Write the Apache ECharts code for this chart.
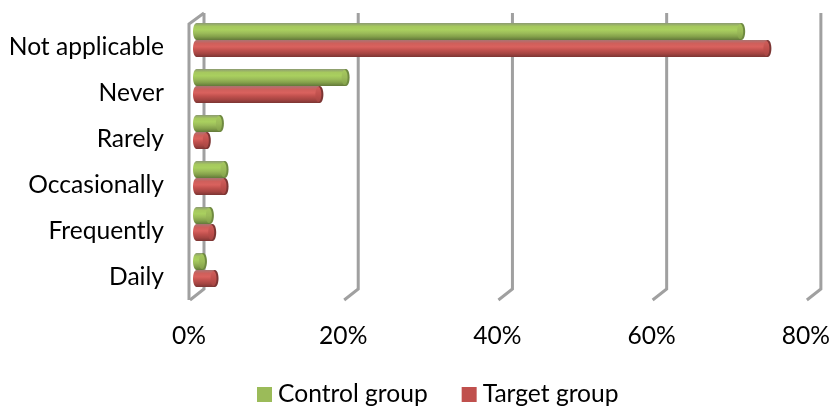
<!DOCTYPE html>
<html>
<head>
<meta charset="utf-8">
<style>html,body{margin:0;padding:0;background:#fff}#chart{width:833px;height:408px}</style>
<script src="https://cdn.jsdelivr.net/npm/echarts@6/dist/echarts.min.js"></script>
</head>
<body>
<div id="chart"></div>
<script>
const categories = ['Not applicable', 'Never', 'Rarely', 'Occasionally', 'Frequently', 'Daily'];
const controlGroup = [70.7, 19.4, 3.1, 3.7, 1.8, 0.9];
const targetGroup = [74.1, 16.0, 1.4, 3.7, 2.1, 2.4];
const ticks = [0, 20, 40, 60, 80];

// Pseudo-3D depth of the plot box, in pixels
const DEPTH_X = 15;
const DEPTH_Y = 11;
const BAR_H = 17;
const CAP_RX = 3.5;

function tube(stops) {
  return {
    type: 'linear', x: 0, y: 0, x2: 0, y2: 1,
    colorStops: stops.map((c, i) => ({ offset: i / (stops.length - 1), color: c }))
  };
}

// Cylinder lying along the value axis: rounded base, shaded body, darker end cap
function cylinderRenderer(stops, capStops, capEdge, side) {
  return function (params, api) {
    const end = api.coord([api.value(0), api.value(1)]);
    const base = api.coord([0, api.value(1)]);
    const cy = end[1] - 7 + side * BAR_H / 2;
    const x0 = base[0] + 7.5;
    const x1 = end[0] + 7.5;
    const fill = tube(stops);
    return {
      type: 'group',
      children: [
        { type: 'ellipse', shape: { cx: x0, cy: cy, rx: CAP_RX, ry: BAR_H / 2 }, style: { fill: fill } },
        { type: 'rect', shape: { x: x0, y: cy - BAR_H / 2, width: x1 - x0, height: BAR_H }, style: { fill: fill } },
        { type: 'ellipse', shape: { cx: x1, cy: cy, rx: CAP_RX, ry: BAR_H / 2 }, style: { fill: capEdge } },
        { type: 'ellipse', shape: { cx: x1 - 1.5, cy: cy, rx: CAP_RX - 0.5, ry: BAR_H / 2 - 1 }, style: { fill: tube(capStops) } }
      ]
    };
  };
}

// Gridline wall: each tick runs along the floor and up the back; zero also has the side wall
function renderWall(params, api) {
  const v = api.value(0);
  const x = api.coord([v, 0])[0];
  const box = params.coordSys;
  const top = box.y;
  const bottom = box.y + box.height;
  const style = { stroke: '#a0a0a0', lineWidth: 3, fill: 'none' };
  const backPath = [[x + 1, bottom], [x + DEPTH_X, bottom - DEPTH_Y], [x + DEPTH_X, top - DEPTH_Y]];
  const children = [{ type: 'polyline', shape: { points: backPath }, style: style }];
  if (v === 0) {
    children.push({
      type: 'polyline',
      shape: { points: [[x + DEPTH_X, top - DEPTH_Y], [x, top], [x, bottom]] },
      style: style
    });
  }
  return { type: 'group', children: children };
}

const chart = echarts.init(document.getElementById('chart'), null, { renderer: 'canvas' });
chart.setOption({
  animation: false,
  backgroundColor: '#ffffff',
  textStyle: { fontFamily: 'Lato' },
  grid: { left: 189, top: 24, width: 620, height: 276, containLabel: false },
  legend: {
    left: 252, top: 377, itemWidth: 15, itemHeight: 15, itemGap: 34,
    icon: 'rect',
    textStyle: { fontSize: 24.6, color: '#000', fontFamily: 'Lato', padding: [0, 0, 0, 1] },
    data: ['Control group', 'Target group']
  },
  xAxis: {
    type: 'value', min: 0, max: 80, interval: 20, position: 'bottom',
    axisLine: { show: false }, axisTick: { show: false }, splitLine: { show: false },
    axisLabel: { formatter: '{value}%', fontSize: 24.6, color: '#000', margin: 24, fontFamily: 'Lato', hideOverlap: false }
  },
  yAxis: {
    type: 'category', inverse: true, data: categories,
    axisLine: { show: false }, axisTick: { show: false },
    axisLabel: { fontSize: 24.6, color: '#000', margin: 25, fontFamily: 'Lato' }
  },
  series: [
    {
      type: 'custom', name: 'wall', silent: true, z: 1, clip: false,
      renderItem: renderWall, encode: { x: 0 },
      data: ticks.map(t => [t, 0])
    },
    {
      type: 'custom', name: 'Control group', z: 3, clip: false,
      itemStyle: { color: '#9BBB59' },
      renderItem: cylinderRenderer(['#8c9a72', '#a6c85e', '#a9d05f', '#9bbb59', '#83a04a', '#63783a'], ['#a6c85e', '#9bbb59', '#83a04a'], '#6f8a40', -1),
      encode: { x: 0, y: 1 },
      data: controlGroup.map((v, i) => [v, i])
    },
    {
      type: 'custom', name: 'Target group', z: 2, clip: false,
      itemStyle: { color: '#C0504D' },
      renderItem: cylinderRenderer(['#a97472', '#cf5f5b', '#d9625e', '#c0504d', '#a54542', '#7c3533'], ['#cf5f5b', '#c0504d', '#a54542'], '#7c3533', 1),
      encode: { x: 0, y: 1 },
      data: targetGroup.map((v, i) => [v, i])
    }
  ]
});
</script>
</body>
</html>
